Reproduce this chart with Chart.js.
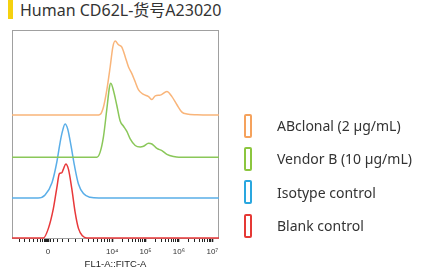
<!DOCTYPE html>
<html>
<head>
<meta charset="utf-8">
<script src="https://cdn.jsdelivr.net/npm/chart.js@4"></script>
<style>
  body { margin:0; width:425px; height:270px; background:#fff; position:relative; overflow:hidden; font-family:"Noto Sans","Noto Sans CJK SC",sans-serif; }
  #titleBar { position:absolute; left:8px; top:0; width:5px; height:19px; background:#f5d10f; }
  #title { position:absolute; left:20px; top:-3px; font-size:16px; color:#333; white-space:nowrap; }
  #wrap { position:absolute; left:0; top:0; width:425px; height:270px; }
  #legend { position:absolute; left:244px; top:109px; }
  .item { display:flex; align-items:center; height:33.3px; }
  .box { width:4px; height:20px; border:2px solid; border-radius:2px; margin-right:25px; }
  .item span { font-size:14px; color:#333; white-space:nowrap; }
</style>
</head>
<body>
<div id="titleBar"></div>
<div id="title">Human CD62L-货号A23020</div>
<div id="wrap"><canvas id="chart"></canvas></div>
<div id="legend"></div>
<script>
// x values are in display decades (10^4 -> 4), y values in % of mode
const seriesNames = ['ABclonal (2 µg/mL)', 'Vendor B (10 µg/mL)', 'Isotype control', 'Blank control'];
const seriesColors = ['#f9b57a', '#8ac759', '#5aaee8', '#e8383a'];
const legendColors = ['#f5a25d', '#8cc63f', '#2aa7df', '#e53935'];
const seriesOffsets = [166, 109, 54, 0];

const abclonalX = [1.0,3.54,3.64,3.74,3.84,3.94,4.02,4.09,4.19,4.29,4.39,4.49,4.59,4.69,4.79,4.94,5.09,5.19,5.29,5.44,5.64,5.79,5.94,6.09,6.24,6.54,7.2];
const abclonalY = [0,0,1,11,34,65,92,100,95,92,79,65,56,45,34,28,25,21,26,27,32,25,14,4,1.5,0.5,0];
const vendorX = [1.0,3.54,3.64,3.74,3.84,3.92,3.96,4.04,4.14,4.24,4.34,4.44,4.54,4.69,4.84,4.94,5.09,5.19,5.34,5.49,5.64,5.84,6.0,7.2];
const vendorY = [0,0,7,28,65,95,100,90,70,49,42,35,25,16,14,15,19,18,12,9,4,1,0,0];
const isotypeX = [1.0,1.78,1.99,2.2,2.34,2.44,2.51,2.59,2.67,2.77,2.87,2.99,3.14,3.34,3.6,7.2];
const isotypeY = [0,0,4,21,48,75,90,100,93,70,44,19,6,1,0,0];
const blankX = [1.0,1.94,2.09,2.24,2.34,2.42,2.49,2.54,2.61,2.69,2.79,2.89,2.99,3.11,3.24,7.2];
const blankY = [0,0,13,40,67,87,88,93,100,93,67,35,13,3,0,0];

const majorTicks = [2.08, 4, 5, 6, 7];
const majorLabels = ['0', '10⁴', '10⁵', '10⁶', '10⁷'];
const linMinorTicks = [1.216,1.365,1.515,1.635,1.754,1.844,1.919,1.964,1.994,2.024,2.054,2.144,2.234,2.353,2.503,2.683,2.892,3.102,3.281,3.431,3.551,3.671,3.760,3.850,3.925];
const logMinorMult = [2,3,4,5,6,7,8,9];

const xs = [abclonalX, vendorX, isotypeX, blankX];
const ys = [abclonalY, vendorY, isotypeY, blankY];

let allTicks = majorTicks.concat(linMinorTicks);
[4,5,6].forEach(d => logMinorMult.forEach(m => allTicks.push(d + Math.log10(m))));
allTicks.sort((a,b) => a-b);
const isMajor = v => majorTicks.some(m => Math.abs(m - v) < 1e-6);

const datasets = seriesNames.map((name, i) => ({
  label: name,
  data: xs[i].map((x, j) => ({ x: x, y: ys[i][j] + seriesOffsets[i] })),
  borderColor: seriesColors[i], borderWidth: 1.5,
  pointRadius: 0, fill: false, cubicInterpolationMode: 'monotone', clip: 3
}));

const boxPlugin = {
  id: 'box',
  beforeDatasetsDraw(chart) {
    const a = chart.chartArea, c = chart.ctx;
    c.save(); c.strokeStyle = '#a0a0a0'; c.lineWidth = 1;
    c.strokeRect(a.left + 0.5, a.top + 0.5, a.right - a.left - 1, a.bottom - a.top);
    c.restore();
  }
};

new Chart(document.getElementById('chart'), {
  type: 'line',
  data: { datasets: datasets },
  plugins: [boxPlugin],
  options: {
    responsive: true, maintainAspectRatio: false, animation: false,
    layout: { padding: { left: 12, right: 206, top: 30, bottom: 0 } },
    plugins: { legend: { display: false }, tooltip: { enabled: false } },
    scales: {
      x: {
        type: 'linear', min: 1.0, max: 7.2,
        afterBuildTicks: s => { s.ticks = allTicks.map(v => ({ value: v })); },
        afterFit: s => { s.height = 32; },
        border: { display: false },
        grid: { drawOnChartArea: false, drawTicks: true, tickLength: 4, tickColor: '#222',
                tickWidth: ctx => (ctx.tick && isMajor(ctx.tick.value)) ? 1.6 : 1 },
        ticks: {
          autoSkip: false, maxRotation: 0, padding: 5, color: '#333',
          font: { family: 'Liberation Sans', size: 8 },
          callback: v => { const k = majorTicks.findIndex(m => Math.abs(m - v) < 1e-6); return k >= 0 ? majorLabels[k] : ''; }
        },
        title: { display: true, text: 'FL1-A::FITC-A', color: '#222', font: { family: 'Liberation Sans', size: 9.5 }, padding: { top: 2, bottom: 0 } }
      },
      y: { display: false, min: 0, max: 281 }
    }
  }
});

document.getElementById('legend').innerHTML = seriesNames.map((n, i) =>
  `<div class="item"><div class="box" style="border-color:${legendColors[i]}"></div><span>${n}</span></div>`).join('');
</script>
</body>
</html>
